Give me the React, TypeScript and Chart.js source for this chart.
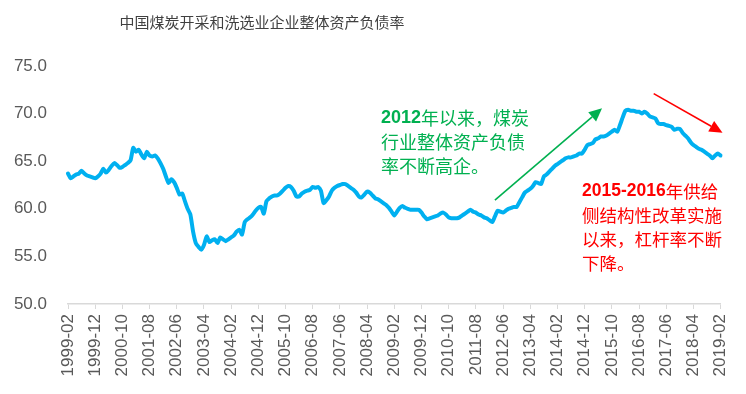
import React, { useEffect, useRef } from "react";
import { Chart, registerables } from "chart.js";

Chart.register(...registerables);

// ---- data ----
const START_YEAR = 1999;
const START_MONTH = 2;
const MONTHS = 241;
const categories: string[] = [];
for (let k = 0; k < MONTHS; k++) {
  const m = START_MONTH - 1 + k;
  const y = START_YEAR + Math.floor(m / 12);
  const mm = (m % 12) + 1;
  categories.push(`${y}-${String(mm).padStart(2, "0")}`);
}

const debtRatio: number[] = [
  63.7, 63.2, 63.4, 63.6, 63.7, 64.0, 63.7, 63.5, 63.4, 63.3,
  63.2, 63.4, 63.7, 64.2, 63.8, 64.1, 64.5, 64.8, 64.6, 64.3,
  64.4, 64.6, 64.8, 65.1, 66.4, 66.0, 66.2, 65.7, 65.3, 66.0,
  65.6, 65.5, 65.6, 65.3, 64.8, 64.2, 63.4, 62.7, 63.1, 62.8,
  62.2, 61.5, 61.6, 60.8, 60.0, 59.4, 57.6, 56.4, 56.0, 55.7,
  56.2, 57.1, 56.5, 56.7, 56.8, 56.4, 57.0, 56.8, 56.6, 56.8,
  57.0, 57.2, 57.6, 57.8, 57.3, 58.6, 58.9, 59.1, 59.4, 59.8,
  60.1, 60.2, 59.5, 60.8, 61.1, 61.3, 61.4, 61.4, 61.6, 61.9,
  62.2, 62.4, 62.3, 61.9, 61.3, 61.3, 61.6, 61.8, 61.9, 62.0,
  62.3, 62.2, 62.3, 61.9, 60.6, 60.9, 61.3, 61.9, 62.2, 62.4,
  62.5, 62.6, 62.6, 62.4, 62.2, 62.0, 61.7, 61.3, 61.2, 61.5,
  61.8, 61.7, 61.4, 61.1, 61.0, 60.8, 60.6, 60.4, 60.1, 59.7,
  59.3, 59.7, 60.1, 60.3, 60.1, 60.0, 59.9, 59.9, 59.9, 59.9,
  59.6, 59.2, 58.9, 59.0, 59.1, 59.2, 59.3, 59.5, 59.6, 59.4,
  59.1, 59.0, 59.0, 59.0, 59.1, 59.3, 59.5, 59.7, 59.9, 59.7,
  59.6, 59.4, 59.3, 59.1, 59.0, 58.8, 58.6, 59.2, 59.8, 59.7,
  59.6, 59.8, 60.0, 60.1, 60.2, 60.2, 60.7, 61.2, 61.7, 61.9,
  62.1, 62.4, 62.8, 62.7, 62.6, 63.4, 63.6, 63.9, 64.2, 64.5,
  64.7, 64.9, 65.1, 65.3, 65.4, 65.4, 65.5, 65.6, 65.8, 65.8,
  66.2, 66.7, 66.8, 66.9, 67.3, 67.4, 67.6, 67.6, 67.7, 67.9,
  68.1, 68.3, 68.1, 68.8, 69.6, 70.3, 70.4, 70.3, 70.3, 70.2,
  70.2, 70.0, 70.2, 70.0, 69.7, 69.6, 69.5, 69.0, 68.9, 68.9,
  68.8, 68.7, 68.6, 68.3, 68.4, 68.4, 68.0, 67.7, 67.4, 67.0,
  66.7, 66.5, 66.3, 66.2, 66.0, 65.8, 65.6, 65.3, 65.6, 65.8,
  65.6,
];

const TICK_EVERY = 10;
const Y_MIN = 50;
const Y_MAX = 75;
const Y_STEP = 5;

const chartTitle = "中国煤炭开采和洗选业企业整体资产负债率";
// [bold latin part, CJK part]
const greenNote: [string, string][] = [
  ["2012", "年以来，煤炭"],
  ["", "行业整体资产负债"],
  ["", "率不断高企。"],
];
const redNote: [string, string][] = [
  ["2015-2016", "年供给"],
  ["", "侧结构性改革实施"],
  ["", "以来，杠杆率不断"],
  ["", "下降。"],
];
// arrows in data coordinates: [fromIndex, fromValue, toIndex, toValue]
const greenArrow = [157.0, 60.9, 196.4, 70.55];
const redArrow = [215.4, 72.1, 240.7, 68.0];

const GREEN = "#00B050";
const RED = "#FF0000";
const LINE = "#00B0F0";
const CJK = '"Noto Sans CJK SC", sans-serif';
const LATIN = '"Liberation Sans", Arial, sans-serif';

function drawArrow(ctx: CanvasRenderingContext2D, x1: number, y1: number, x2: number, y2: number, color: string) {
  const ang = Math.atan2(y2 - y1, x2 - x1);
  const headLen = 13;
  const headW = 6;
  const bx = x2 - headLen * Math.cos(ang);
  const by = y2 - headLen * Math.sin(ang);
  ctx.save();
  ctx.strokeStyle = color;
  ctx.fillStyle = color;
  ctx.lineWidth = 1.6;
  ctx.beginPath();
  ctx.moveTo(x1, y1);
  ctx.lineTo(bx, by);
  ctx.stroke();
  ctx.beginPath();
  ctx.moveTo(x2, y2);
  ctx.lineTo(bx + headW * Math.sin(ang), by - headW * Math.cos(ang));
  ctx.lineTo(bx - headW * Math.sin(ang), by + headW * Math.cos(ang));
  ctx.closePath();
  ctx.fill();
  ctx.restore();
}

function drawNote(ctx: CanvasRenderingContext2D, lines: [string, string][], x: number, y0: number, gap: number, size: number, color: string) {
  ctx.save();
  ctx.fillStyle = color;
  ctx.textBaseline = "middle";
  ctx.textAlign = "left";
  lines.forEach(([latin, cjk], i) => {
    const y = y0 + i * gap;
    let cx = x;
    if (latin) {
      ctx.font = `bold ${size}px ${LATIN}`;
      ctx.fillText(latin, cx, y);
      cx += ctx.measureText(latin).width;
    }
    ctx.font = `${size}px ${CJK}`;
    ctx.fillText(cjk, cx, y);
  });
  ctx.restore();
}

const annotationPlugin = {
  id: "annotations",
  afterDraw(chart: any) {
    const ctx: CanvasRenderingContext2D = chart.ctx;
    const xs = chart.scales.x;
    const ys = chart.scales.y;
    ctx.save();
    ctx.fillStyle = "#404040";
    ctx.font = `15px ${CJK}`;
    ctx.textAlign = "center";
    ctx.textBaseline = "middle";
    ctx.fillText(chartTitle, 262, 22);
    ctx.restore();

    drawNote(ctx, greenNote, 381, 118, 24, 18, GREEN);
    drawNote(ctx, redNote, 582, 191, 24, 17.5, RED);

    const [ga, gb, gc, gd] = greenArrow;
    drawArrow(ctx, xs.getPixelForValue(ga), ys.getPixelForValue(gb), xs.getPixelForValue(gc), ys.getPixelForValue(gd), GREEN);
    const [ra, rb, rc, rd] = redArrow;
    drawArrow(ctx, xs.getPixelForValue(ra), ys.getPixelForValue(rb), xs.getPixelForValue(rc), ys.getPixelForValue(rd), RED);
  },
};

export default function App() {
  const ref = useRef<HTMLCanvasElement | null>(null);
  useEffect(() => {
    if (!ref.current) return;
    const chart = new Chart(ref.current, {
      type: "line",
      data: {
        labels: categories,
        datasets: [
          {
            data: debtRatio,
            borderColor: LINE,
            backgroundColor: LINE,
            borderWidth: 4,
            pointRadius: 0,
            tension: 0.2,
            borderJoinStyle: "round",
            borderCapStyle: "round",
          },
        ],
      },
      options: {
        animation: false,
        responsive: false,
        maintainAspectRatio: false,
        layout: { padding: { left: 0, right: 23, top: 66, bottom: 0 } },
        plugins: { legend: { display: false }, tooltip: { enabled: false }, title: { display: false } },
        scales: {
          x: {
            type: "category",
            offset: false,
            grid: { display: true, drawOnChartArea: false, drawTicks: true, tickLength: 5, color: "#D9D9D9" },
            border: { display: true, color: "#D9D9D9", width: 1.5 },
            ticks: {
              autoSkip: false,
              maxRotation: 90,
              minRotation: 90,
              padding: 5,
              color: "#595959",
              font: { family: LATIN, size: 17 },
              callback: (_v: any, i: number) => (i % TICK_EVERY === 0 ? categories[i] : null),
            },
            afterFit: (s: any) => { s.height = 90; },
          },
          y: {
            min: Y_MIN,
            max: Y_MAX,
            grid: { display: false, drawTicks: false },
            border: { display: false },
            ticks: {
              stepSize: Y_STEP,
              padding: 21,
              color: "#595959",
              font: { family: LATIN, size: 17 },
              callback: (v: any) => Number(v).toFixed(1),
            },
            afterFit: (s: any) => { s.width = 68; },
          },
        },
      },
      plugins: [annotationPlugin],
    });
    return () => chart.destroy();
  }, []);
  return (
    <div style={{ position: "absolute", left: 0, top: 0, width: 746, height: 394, background: "#fff" }}>
      <canvas ref={ref} width={746} height={394} style={{ width: 746, height: 394 }} />
    </div>
  );
}
